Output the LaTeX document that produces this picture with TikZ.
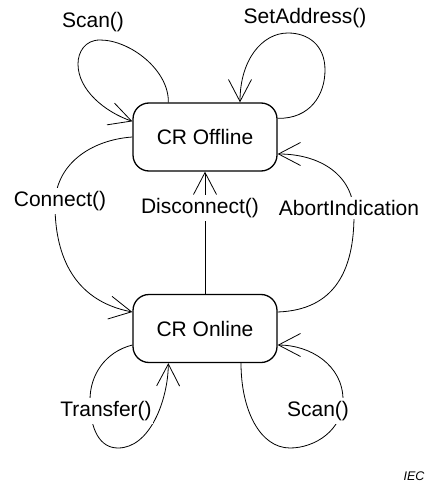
\documentclass[tikz,border=0pt]{standalone}
\usepackage{fontspec}
\setmainfont{Liberation Sans}
\usetikzlibrary{arrows.meta,calc}
\begin{document}
\begin{tikzpicture}[x=1pt, y=-1pt,
    estado/.style={draw, line width=1.3pt, rounded corners=16pt, minimum width=144pt, minimum height=68pt, font=\fontsize{21}{25}\selectfont},
    trans/.style={draw, line width=0.8pt, -{Straight Barb[length=22pt,width=23pt]}},
    rotulo/.style={fill=white, inner xsep=1pt, inner ysep=3pt, font=\fontsize{21}{25}\selectfont}]
        \useasboundingbox (0,0) rectangle (430,486);

        % Estados
        \node[estado] (off) at (205,137) {CR Offline};
        \node[estado] (on) at (205,328.5) {CR Online};

        % Lacos em CR Offline
        \draw[trans] ($(off.north west)+(36,0)$) .. controls (169,70) and (130,40) .. (100,40)
            .. controls (85,40) and (78,52) .. (78,64)
            .. controls (78,90) and (105,112) .. ($(off.north west)+(0,19)$);
        \node[rotulo] (lscan1) at (93,22) {Scan()};

        \draw[trans] ($(off.north east)+(0,16)$) .. controls (310,119) and (325,95) .. (325,70)
            .. controls (325,45) and (308,33) .. (288,33)
            .. controls (262,33) and (240,60) .. ($(off.north)+(35,0)$);
        \node[rotulo] (lsetaddr) at (305,18) {SetAddress()};

        % Transicoes entre os estados
        \draw[trans] (off.west) .. controls (90,140) and (55,165) .. (55,205)
            .. controls (55,250) and (70,300) .. ($(on.west)+(0,-16.5)$);
        \node[rotulo] (lconnect) at (60,201) {Connect()};

        \draw[trans] (on.north) -- (off.south);
        \node[rotulo] (ldisconnect) at (200,208) {Disconnect()};

        \draw[trans] ($(on.east)+(0,-16.5)$) .. controls (335,310) and (354,270) .. (354,215)
            .. controls (354,175) and (320,154) .. ($(off.east)+(0,17)$);
        \node[rotulo] (labort) at (349,208) {AbortIndication};

        % Lacos em CR Online
        \draw[trans] ($(on.west)+(0,16.5)$) .. controls (105,352) and (90,375) .. (90,400)
            .. controls (90,430) and (100,448) .. (118,448)
            .. controls (150,448) and (168,400) .. ($(on.south west)+(36,0)$);
        \node[rotulo] (ltransfer) at (106,411) {Transfer()};

        \draw[trans] ($(on.south)+(36,0)$) .. controls (241,410) and (260,448) .. (290,448)
            .. controls (315,448) and (343,430) .. (343,400)
            .. controls (343,365) and (310,345) .. ($(on.east)+(0,16.5)$);
        \node[rotulo] (lscan2) at (318,411) {Scan()};

        % Marca
        \node[font=\fontsize{12.5}{15}\selectfont\itshape] (iec) at (414,476) {IEC};
\end{tikzpicture}
\end{document}
